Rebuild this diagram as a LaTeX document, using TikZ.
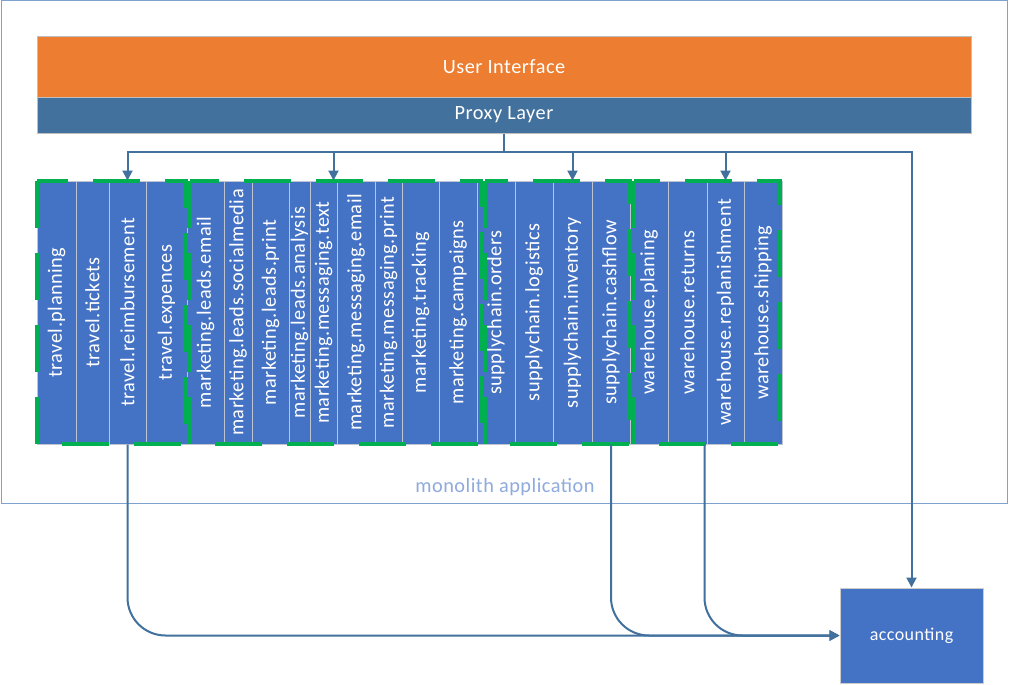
\documentclass[tikz,border=0pt]{standalone}
\usepackage{fontspec}
\setmainfont{Carlito}[LetterSpace=2.5]
\usetikzlibrary{arrows.meta}
\definecolor{uiorange}{HTML}{ED7D31}
\definecolor{proxyblue}{HTML}{41719C}
\definecolor{colblue}{HTML}{4472C4}
\definecolor{grpgreen}{HTML}{00B050}
\definecolor{framec}{HTML}{7EA1CF}
\definecolor{monotext}{HTML}{8FAADC}
\definecolor{sepgray}{HTML}{BFC5D0}
\definecolor{conncol}{HTML}{41719C}
\begin{document}
\begin{tikzpicture}[x=1pt,y=-1pt,
  txt/.style={font=\fontsize{20.3}{24}\selectfont},
  bar/.style={txt, draw=black!25, line width=1pt, minimum width=934, inner sep=0, text=white},
  col/.style={txt, fill=colblue, draw=sepgray, line width=1pt, minimum height=263, inner sep=0, text=white},
  grp/.style={draw=grpgreen, line width=4.5pt, dash pattern=on 47pt off 25pt},
  conn/.style={draw=conncol, line width=2pt},
  tip/.style={-{Triangle[length=10pt,width=10pt]}},
  accbox/.style={font=\fontsize{18}{22}\selectfont, fill=colblue, draw=black!20, line width=1pt, minimum width=143, minimum height=95, inner sep=0, text=white}
]
\useasboundingbox (0,0) rectangle (1009,685);
\fill[white] (0,0) rectangle (1009,685);
% outer monolith frame
\draw[framec, line width=1pt] (1,1) rectangle (1007,503);
\node[font=\fontsize{20.3}{24}\selectfont, text=monotext] (mono) at (505,487) {monolith application};
% layers
\node[bar, fill=uiorange, minimum height=60] (ui) at (504,67) {User Interface};
\node[bar, fill=proxyblue, minimum height=36] (proxy) at (504,115) {Proxy Layer};
% columns
\foreach \n/\a/\b/\t in {
  1/37/76/travel.planning,
  2/76/109/travel.tickets,
  3/109/146/travel.reimbursement,
  4/146/187/travel.expences,
  5/187/224/marketing.leads.email,
  6/224/252/marketing.leads.socialmedia,
  7/252/289/marketing.leads.print,
  8/289/310/marketing.leads.analysis,
  9/310/337/marketing.messaging.text,
  10/337/375/marketing.messaging.email,
  11/375/402/marketing.messaging.print,
  12/402/439/marketing.tracking,
  13/439/477/marketing.campaigns,
  14/477/515/supplychain.orders,
  15/515/553/supplychain.logistics,
  16/553/592/supplychain.inventory,
  17/592/630/supplychain.cashflow,
  18/630/668/warehouse.planing,
  19/668/707/warehouse.returns,
  20/707/744/warehouse.replanishment,
  21/744/782/warehouse.shipping}
{
  \node[col, minimum width=\b-\a] (c\n) at ({(\a+\b)/2},312.5) {\makebox[0pt]{\rotatebox{90}{\t}}};
}
% group frames
\draw[grp] (37,181) rectangle (185.5,444);
\draw[grp] (189.5,181) rectangle (481,444);
\draw[grp] (485,181) rectangle (629.5,444);
\draw[grp] (634,181) rectangle (780,444);
% accounting
\node[accbox] (acc) at (911.5,635.5) {accounting};
% connectors from proxy
\draw[conn] (proxy.south) -- ++(0,18) coordinate (bus);
\draw[conn, tip] (bus) -| (c3.north);
\draw[conn, tip] (bus) -| ([xshift=-4pt]c9.north east);
\draw[conn, tip] (bus) -| (c16.north);
\draw[conn, tip] (bus) -| (c20.north);
\draw[conn, tip] (bus) -| (acc.north);
% connectors to accounting
\draw[conn, tip, rounded corners=38pt] (c3.south) |- (acc.west);
\draw[conn, tip, rounded corners=38pt] (c17.south) |- (acc.west);
\draw[conn, tip, rounded corners=38pt] ([xshift=-2pt]c20.south west) |- (acc.west);
\end{tikzpicture}
\end{document}
